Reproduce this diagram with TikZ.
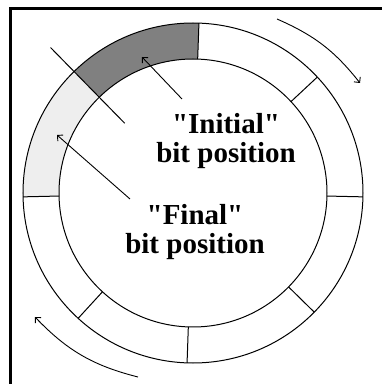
\documentclass[tikz,border=0pt]{standalone}
\usepackage{fontspec}
\setmainfont{Liberation Serif}
\usetikzlibrary{arrows.meta}
\definecolor{darkseg}{RGB}{128,128,128}
\definecolor{lightseg}{RGB}{238,238,238}
\begin{document}
\begin{tikzpicture}[x=1pt,y=1pt,
  ring/.style={draw=black, line width=1pt},
  ptr/.style={-{Straight Barb[length=4pt,width=8pt]}, line width=0.9pt},
  lbl/.style={font=\fontsize{29}{29}\selectfont\bfseries, align=center, inner sep=0pt},
  frameline/.style={line width=3pt}]
\useasboundingbox (0,0) rectangle (382,384);
% frame (top and left only)
\coordinate (fBL) at (10,0);
\coordinate (fTL) at (10,375);
\coordinate (fTR) at (382,375);
\draw[frameline] (fBL) -- (fTL) -- (fTR);
\coordinate (C) at (193,191);
% shaded segments
\begin{scope}[shift={(193,191)}]
  \fill[darkseg] (88:170) arc[start angle=88,end angle=134.4,radius=170]
     -- (134.4:134) arc[start angle=134.4,end angle=88,radius=134] -- cycle;
  \fill[lightseg] (134.4:170) arc[start angle=134.4,end angle=181.3,radius=170]
     -- (181.3:134) arc[start angle=181.3,end angle=134.4,radius=134] -- cycle;
  \draw[ring] (0,0) circle[radius=170];
  \draw[ring] (0,0) circle[radius=134];
  \foreach \a in {88,43,-1.3,-44.5,268,227.5,181.3}
    \draw[ring] (\a:134) -- (\a:170);
  \draw[ring] (134.4:97.6) -- (134.4:203.6);
\end{scope}
% labels
\node[lbl, anchor=base] (ini) at (226,222) {\textquotedbl Initial\textquotedbl\\bit position};
\node[lbl, anchor=base] (fin) at (195,131) {\textquotedbl Final\textquotedbl\\bit position};
% pointers
\coordinate (iniTail) at (182,285);
\coordinate (iniTip) at (142,327);
\coordinate (finTail) at (130,185);
\coordinate (finTip) at (57,249);
\draw[ptr] (iniTail) -- (iniTip);
\draw[ptr] (finTail) -- (finTip);
% rotation arrows
\coordinate (rotAs) at (277,365);
\coordinate (rotAe) at (360,301);
\coordinate (rotBs) at (138,7);
\coordinate (rotBe) at (35,67);
\draw[ptr] (rotAs) to[bend left=14] (rotAe);
\draw[ptr] (rotBs) to[bend left=16] (rotBe);
\end{tikzpicture}
\end{document}
